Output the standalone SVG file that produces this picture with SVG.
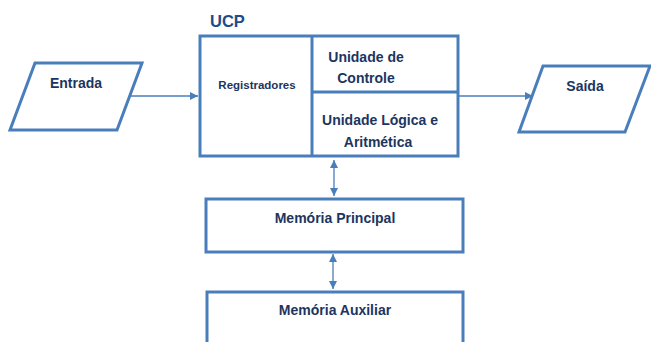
<svg xmlns="http://www.w3.org/2000/svg" width="651" height="342" viewBox="0 0 651 342">
<defs>
<style>
.box{fill:#fff;stroke:#4a7ebb;stroke-width:3}
.ln{fill:none;stroke:#4a7ebb;stroke-width:1.3}
.t{font-family:"Liberation Sans",Arial,sans-serif;font-weight:bold;font-size:14px;fill:#1c3560}
</style>
<marker id="ah" viewBox="0 0 10 10" refX="10" refY="5" markerWidth="8" markerHeight="8" markerUnits="userSpaceOnUse" orient="auto-start-reverse">
<path d="M0,0 L10,5 L0,10 z" fill="#4a7ebb"/>
</marker>
</defs>
<rect width="651" height="342" fill="#fff"/>
<g id="connectors">
<line class="ln" x1="131" y1="96" x2="198" y2="96" marker-end="url(#ah)"/>
<line class="ln" x1="458" y1="96" x2="533" y2="96" marker-end="url(#ah)"/>
<line class="ln" x1="334" y1="160" x2="334" y2="196" marker-start="url(#ah)" marker-end="url(#ah)"/>
<line class="ln" x1="333" y1="254" x2="333" y2="289" marker-start="url(#ah)" marker-end="url(#ah)"/>
</g>
<g id="entrada">
<polygon class="box" points="35,63 142,63 117,130 10,130"/>
<text class="t" x="76" y="88" text-anchor="middle">Entrada</text>
</g>
<g id="ucp">
<text x="210" y="27" style="font-family:'Liberation Sans',Arial,sans-serif;font-weight:bold;font-size:16.5px;fill:#1f4c8a">UCP</text>
<rect class="box" x="200" y="36" width="258" height="120"/>
</g>
<g id="registradores">
<line class="box" x1="312" y1="36" x2="312" y2="156"/>
<text class="t" x="257" y="89" text-anchor="middle" style="font-size:11.5px">Registradores</text>
</g>
<g id="unidade-controle">
<line class="box" x1="312" y1="92" x2="458" y2="92"/>
<text class="t" x="366" y="62" text-anchor="middle">Unidade de</text>
<text class="t" x="366" y="83" text-anchor="middle">Controle</text>
</g>
<g id="ula">
<text class="t" x="380" y="125" text-anchor="middle">Unidade Lógica e</text>
<text class="t" x="378" y="147" text-anchor="middle">Aritmética</text>
</g>
<g id="saida">
<polygon class="box" points="543,66 650,66 625,132 519,132"/>
<text class="t" x="585" y="91" text-anchor="middle">Saída</text>
</g>
<g id="memoria-principal">
<rect class="box" x="206" y="199" width="257" height="53"/>
<text class="t" x="335" y="223" text-anchor="middle">Memória Principal</text>
</g>
<g id="memoria-auxiliar">
<rect class="box" x="207" y="292" width="256" height="60"/>
<text class="t" x="335" y="315" text-anchor="middle">Memória Auxiliar</text>
</g>
</svg>
